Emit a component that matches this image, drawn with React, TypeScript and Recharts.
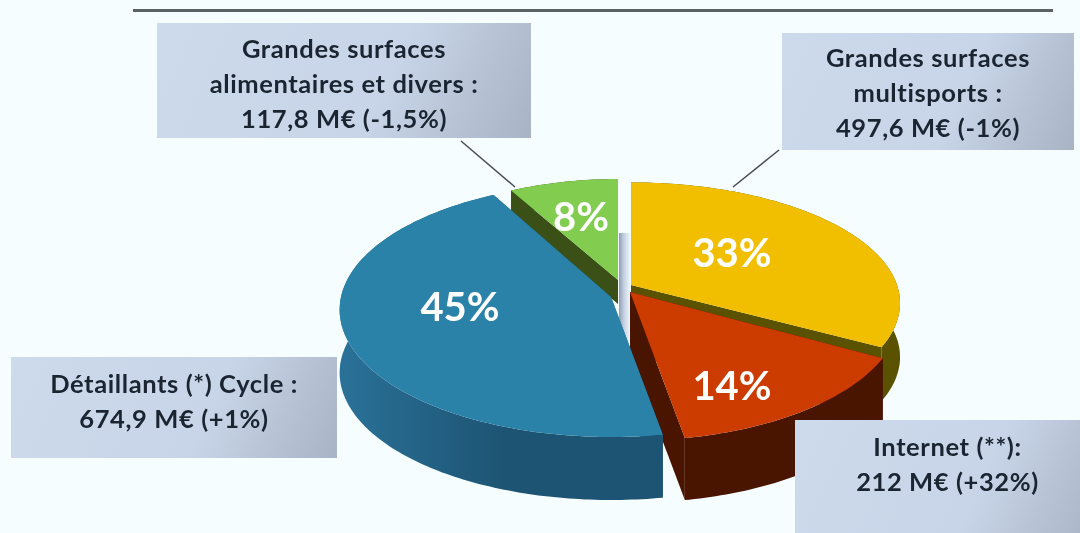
import React from "react";
import { PieChart, Pie } from "recharts";

// chiffre d'affaires par circuit, M€ (the food retailers come first so the blue slice paints over them)
const channels = [
  "Grandes surfaces alimentaires et divers",
  "Grandes surfaces multisports",
  "Internet",
  "Détaillants Cycle",
];
const revenue = [117.8, 497.6, 212, 674.9];
const percentLabels = ["8%", "33%", "14%", "45%"];

const chartData = channels.map((name, i) => ({ name, value: revenue[i] }));
const totalRevenue = revenue.reduce((a, b) => a + b, 0);
// multisports starts at 12 o'clock, so the first slice sits just before it
const pieStart = 90 + (revenue[0] / totalRevenue) * 360;

// the slices are each exploded and foreshortened a bit differently in the original
const sliceLook = [
  { cx: 618, cy: 280, r: 236, s: 106, k: 0.05, depth: 24, top: "#82cc50", side: "#41591a", sideDark: "#3a5016", lx: 581, ly: 216 },
  { cx: 631, cy: 285, r: 266, s: 118, k: 0.15, depth: 54, top: "#f2bf00", side: "#6a5c00", sideDark: "#5a5200", lx: 732, ly: 252 },
  { cx: 630, cy: 292, r: 267, s: 125, k: 0.16, depth: 62, top: "#cc3b00", side: "#591b00", sideDark: "#4a1500", lx: 732, ly: 385 },
  { cx: 611, cy: 297, r: 270, s: 126, k: 0.1, depth: 63, top: "#2b82a9", side: "#2a7198", sideDark: "#1d5473", lx: 460, ly: 306 },
];

const boxes = [
  { x: 157, y: 23, w: 374, h: 115, lines: ["Grandes surfaces", "alimentaires et divers :", "117,8 M€ (-1,5%)"], pad: 8 },
  { x: 782, y: 33, w: 292, h: 117, lines: ["Grandes surfaces", "multisports :", "497,6 M€ (-1%)"], pad: 7 },
  { x: 11, y: 357, w: 326, h: 101, lines: ["Détaillants (*) Cycle :", "674,9 M€ (+1%)"], pad: 9 },
  { x: 795, y: 420, w: 305, h: 113, lines: ["Internet (**):", "212 M€ (+32%)"], pad: 9 },
];

const project = (look: any, deg: number) => {
  const a = (deg * Math.PI) / 180;
  const u = Math.sin(a);
  const v = Math.cos(a);
  const w = 1 + look.k * v;
  return [look.cx + (look.r * u) / w, look.cy - (look.s * v) / w];
};

const toPath = (pts: number[][]) =>
  pts.map((p, i) => `${i ? "L" : "M"}${p[0].toFixed(1)},${p[1].toFixed(1)}`).join(" ") + " Z";

const Slice = (props: any) => {
  const { index, startAngle, endAngle } = props;
  const look = sliceLook[index];
  // recharts angles run counter-clockwise from 3 o'clock, here clockwise from 12
  const from = 90 - startAngle;
  const to = 90 - endAngle;
  const arc: number[][] = [];
  for (let d = from; d <= to; d += 1) arc.push(project(look, d));
  arc.push(project(look, to));

  const drop = (p: number[]) => [p[0], p[1] + look.depth];
  const apex = [look.cx, look.cy];
  const first = arc[0];
  const last = arc[arc.length - 1];
  const gradId = `wall-${index}`;

  return (
    <g>
      <defs>
        <linearGradient id={gradId} gradientUnits="userSpaceOnUse" x1={look.cx - look.r} x2={look.cx + look.r * 0.2} y1="0" y2="0">
          <stop offset="0" stopColor={look.side} />
          <stop offset="0.5" stopColor={look.sideDark} />
          <stop offset="1" stopColor={look.sideDark} />
        </linearGradient>
      </defs>
      <path d={toPath([apex, first, drop(first), drop(apex)])} fill={look.sideDark} />
      <path d={toPath([apex, last, drop(last), drop(apex)])} fill={look.sideDark} />
      <path d={toPath([...arc, ...arc.slice().reverse().map(drop)])} fill={`url(#${gradId})`} />
      <path d={toPath([apex, ...arc])} fill={look.top} />
    </g>
  );
};

const Callout = ({ box }: any) => (
  <div
    style={{
      position: "absolute",
      left: box.x,
      top: box.y,
      width: box.w,
      height: box.h,
      boxSizing: "border-box",
      paddingTop: box.pad,
      background: "linear-gradient(115deg, #cddaec 0%, #c8d5e8 60%, #a8b3c4 100%)",
      textAlign: "center",
      fontFamily: "Lato, sans-serif",
      fontWeight: 700,
      fontSize: 25.5,
      lineHeight: "35px",
      letterSpacing: 0.6,
      color: "#1b2431",
    }}
  >
    {box.lines.map((l: string) => (
      <div key={l}>{l}</div>
    ))}
  </div>
);

export default function App() {
  return (
    <div style={{ position: "absolute", left: 0, top: 0, width: 1080, height: 533, overflow: "hidden", background: "#f5fdff", filter: "blur(0.5px)" }}>
      <div style={{ position: "absolute", left: 133, top: 9, width: 920, height: 3, background: "#596363" }} />
      <div style={{ position: "absolute", left: 619, top: 233, width: 12, height: 110, background: "linear-gradient(90deg, #8f9db3, #c3cfe0 40%, #f5fdff)" }} />
      <PieChart width={1080} height={533} margin={{ top: 0, right: 0, bottom: 0, left: 0 }} style={{ position: "absolute", left: 0, top: 0 }}>
        <Pie
          data={chartData}
          dataKey="value"
          nameKey="name"
          cx={620}
          cy={290}
          outerRadius={200}
          startAngle={pieStart}
          endAngle={pieStart - 360}
          stroke="none"
          shape={Slice}
          isAnimationActive={false}
        />
      </PieChart>
      <svg width={1080} height={533} style={{ position: "absolute", left: 0, top: 0 }}>
        <line x1={461} y1={141} x2={515} y2={187} stroke="#4a4f55" strokeWidth={1.5} />
        <line x1={733} y1={187} x2={779} y2={150} stroke="#4a4f55" strokeWidth={1.5} />
        {percentLabels.map((t, i) => (
          <text
            key={t}
            x={sliceLook[i].lx}
            y={sliceLook[i].ly}
            textAnchor="middle"
            dominantBaseline="central"
            fontFamily="Lato, sans-serif"
            fontWeight={700}
            fontSize={40}
            fill="#ffffff"
          >
            {t}
          </text>
        ))}
      </svg>
      {boxes.map((b) => (
        <Callout key={b.x} box={b} />
      ))}
    </div>
  );
}
